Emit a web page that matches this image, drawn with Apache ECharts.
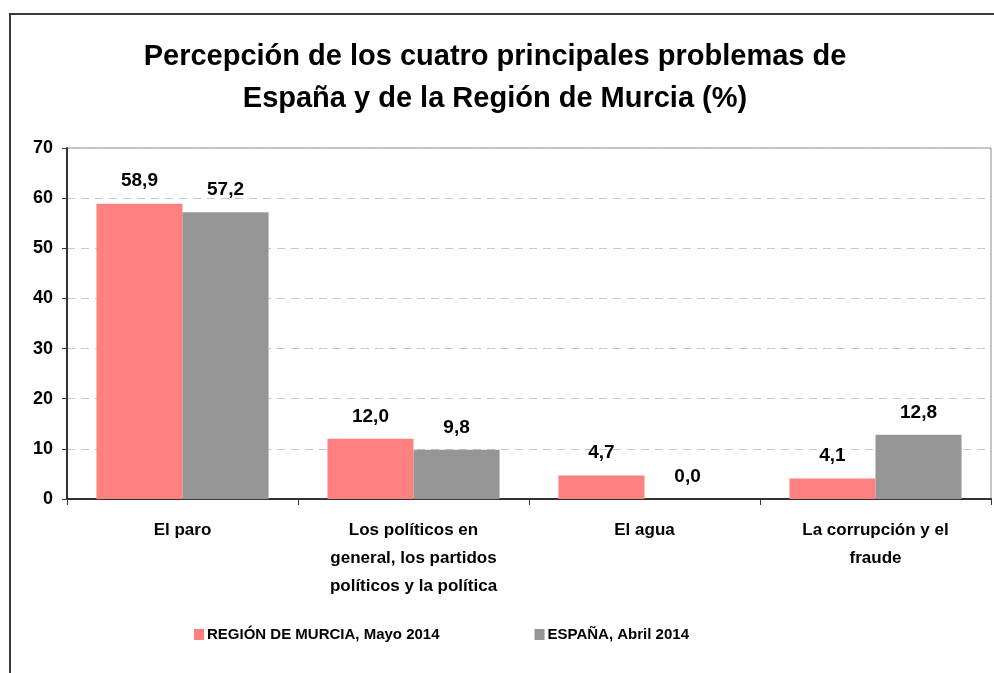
<!DOCTYPE html>
<html><head><meta charset="utf-8">
<script src="https://cdn.jsdelivr.net/npm/echarts@6/dist/echarts.min.js"></script>
<style>html,body{margin:0;padding:0;background:#fff}#c{width:994px;height:673px}</style>
</head><body><div id="c"></div>
<script>
const categories = ['El paro', 'Los políticos en\ngeneral, los partidos\npolíticos y la política', 'El agua', 'La corrupción y el\nfraude'];
const seriesNames = ['REGIÓN DE MURCIA, Mayo 2014', 'ESPAÑA, Abril 2014'];
const murcia = [58.9, 12.0, 4.7, 4.1];
const espana = [57.2, 9.8, 0.0, 12.8];
const titleLines = ['Percepción de los cuatro principales problemas de', 'España y de la Región de Murcia (%)'];

const FONT = '"Liberation Sans", Arial, sans-serif';
const chart = echarts.init(document.getElementById('c'));
const lbl = {
  show: true, position: 'top', distance: 13,
  fontFamily: FONT, fontWeight: 'bold', fontSize: 19, color: '#000',
  formatter: p => p.value.toFixed(1).replace('.', ',')
};
chart.setOption({
  animation: false,
  textStyle: { fontFamily: FONT },
  graphic: [{
    type: 'rect', shape: { x: 10, y: 14, width: 1000, height: 700 },
    style: { fill: 'none', stroke: '#3a3a3a', lineWidth: 2 }, z: -1
  }],
  title: {
    text: titleLines.join('\n'), left: 490, top: 31, textAlign: 'center',
    textStyle: { fontFamily: FONT, fontWeight: 'bold', fontSize: 29, lineHeight: 42, color: '#000' }
  },
  legend: {
    left: 194, top: 627, padding: 0, itemWidth: 10, itemHeight: 11, itemGap: 95,
    icon: 'rect',
    textStyle: { fontFamily: FONT, fontWeight: 'bold', fontSize: 15, color: '#000', padding: [0, 0, 0, -2] },
    data: seriesNames
  },
  grid: { left: 67, right: 3, top: 148, bottom: 174, show: true, borderColor: '#8a8a8a', borderWidth: 1 },
  xAxis: {
    type: 'category', data: categories,
    axisLine: { lineStyle: { color: '#333', width: 2 } },
    axisTick: { show: true, length: 6, lineStyle: { color: '#333' } },
    axisLabel: { fontFamily: FONT, fontWeight: 'bold', fontSize: 17, color: '#000', lineHeight: 28, margin: 17, interval: 0 }
  },
  yAxis: {
    type: 'value', min: 0, max: 70, interval: 10,
    axisLine: { show: true, lineStyle: { color: '#333', width: 2 } },
    axisTick: { show: true, length: 5, lineStyle: { color: '#333' } },
    axisLabel: { fontFamily: FONT, fontWeight: 'bold', fontSize: 18, color: '#000', margin: 14 },
    splitLine: { lineStyle: { color: '#c8c8c8', type: [8, 6] } }
  },
  series: [
    { name: seriesNames[0], type: 'bar', data: murcia, barGap: '0%', barCategoryGap: '25.5%',
      itemStyle: { color: '#FF8080' }, label: lbl },
    { name: seriesNames[1], type: 'bar', data: espana,
      itemStyle: { color: '#969696' }, label: lbl }
  ]
});
</script></body></html>
